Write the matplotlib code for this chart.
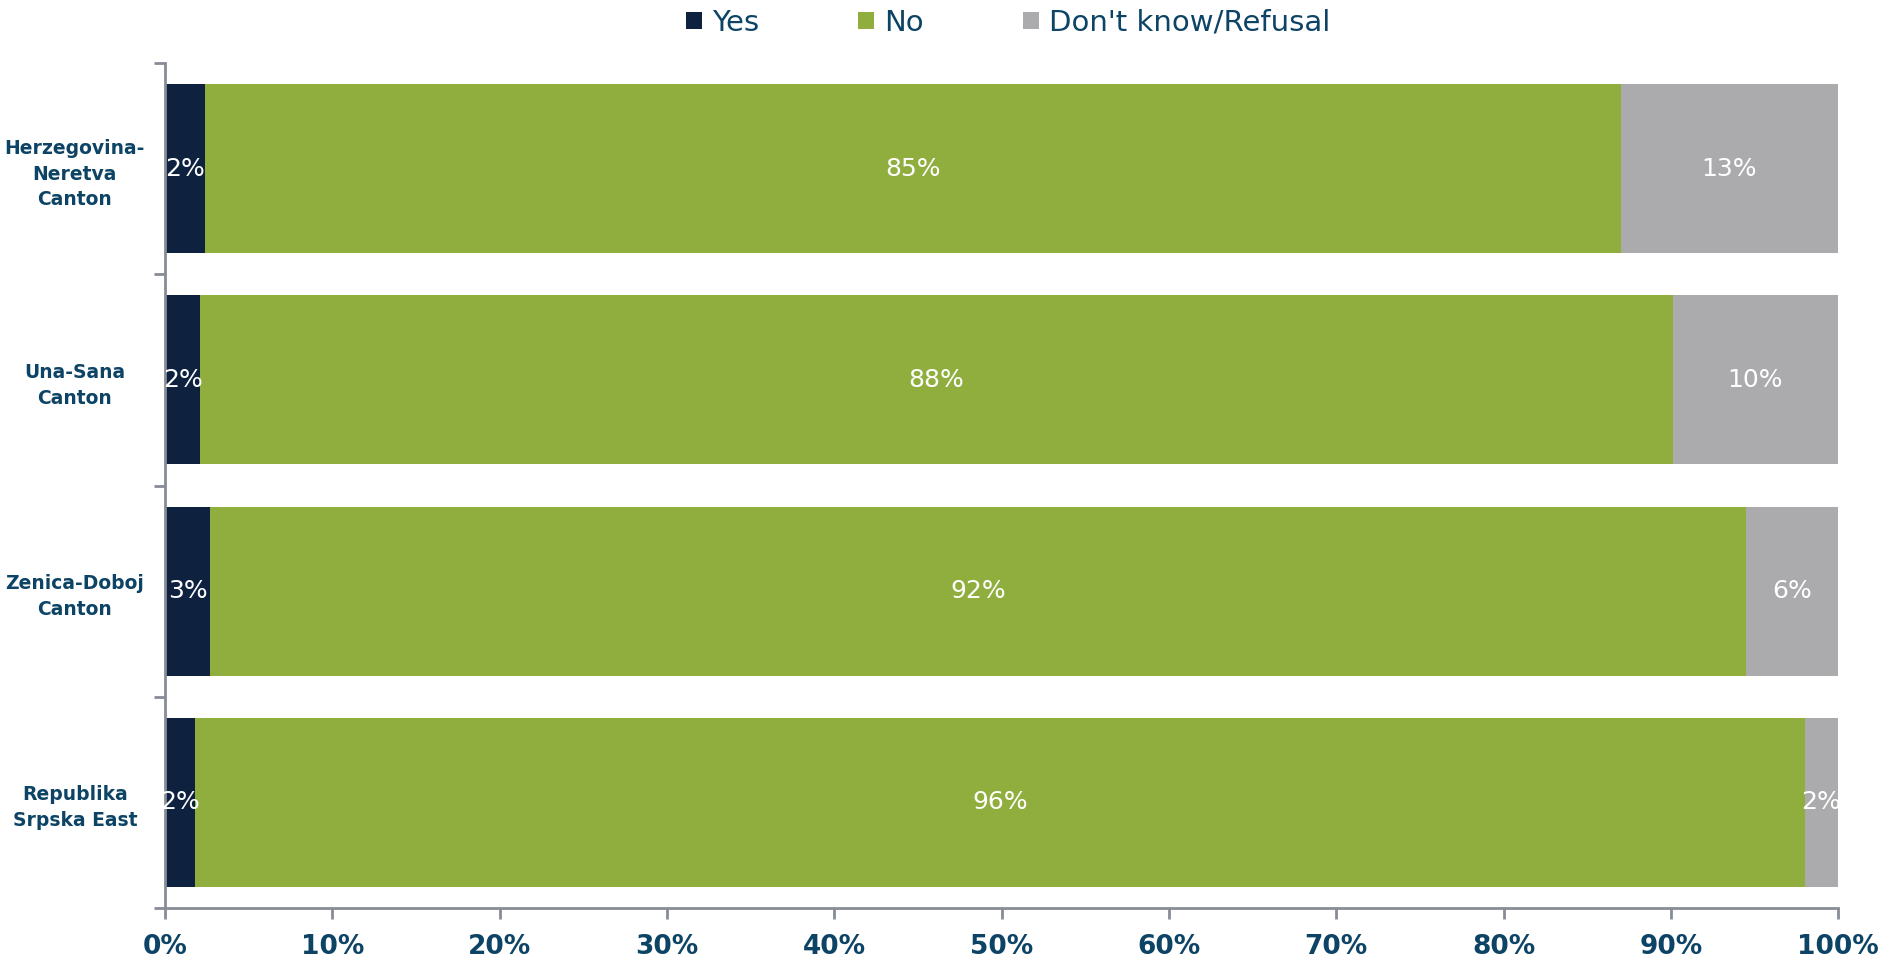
import numpy as np
import matplotlib
matplotlib.use("Agg")
import matplotlib.pyplot as plt

# ── Data ──────────────────────────────────────────────────────────────────────
regions = ["Herzegovina-\nNeretva\nCanton", "Una-Sana\nCanton",
           "Zenica-Doboj\nCanton", "Republika\nSrpska East"]
yes = [2.4, 2.1, 2.7, 1.8]
no = [84.6, 88.0, 91.8, 96.2]
dk = [13.0, 9.9, 5.5, 2.0]
yes_lbl = ["2%", "2%", "3%", "2%"]
no_lbl = ["85%", "88%", "92%", "96%"]
dk_lbl = ["13%", "10%", "6%", "2%"]
series_names = ["Yes", "No", "Don't know/Refusal"]

# ── Style ─────────────────────────────────────────────────────────────────────
C_YES = "#0E2240"
C_NO = "#90AE3E"
C_DK = "#ABABAD"
C_TXT = "#0D4466"
C_AX = "#878C96"
LBL_FONT = ["DejaVu Sans"]

fig = plt.figure(figsize=(18.95, 9.64), dpi=100)
ax = fig.add_axes([0.0871, 0.0581, 0.970 - 0.0871, 0.9346 - 0.0581])

y = np.arange(len(regions))
h = 0.8
left = np.zeros(len(regions))
for vals, lbls, col, name in [(yes, yes_lbl, C_YES, series_names[0]),
                              (no, no_lbl, C_NO, series_names[1]),
                              (dk, dk_lbl, C_DK, series_names[2])]:
    bars = ax.barh(y, vals, left=left, height=h, color=col, label=name,
                   edgecolor="none")
    for b, t in zip(bars, lbls):
        ax.text(b.get_x() + b.get_width() / 2, b.get_y() + b.get_height() / 2,
                t, ha="center", va="center", color="white", fontsize=18,
                family=LBL_FONT)
    left = left + np.array(vals)

ax.set_xlim(0, 100)
ax.set_ylim(len(regions) - 0.5, -0.5)

# x axis
ax.set_xticks(np.arange(0, 101, 10))
ax.set_xticklabels([f"{v}%" for v in range(0, 101, 10)])
ax.tick_params(axis="x", direction="out", length=8, width=2, color=C_AX,
               pad=11, labelsize=19, labelcolor=C_TXT)
for t in ax.get_xticklabels():
    t.set_fontweight("bold")

# y axis: major ticks at category boundaries, labels on minor ticks
ax.set_yticks(np.arange(-0.5, len(regions), 1.0))
ax.set_yticklabels([])
ax.tick_params(axis="y", which="major", direction="out", length=8, width=2,
               color=C_AX)
ax.set_yticks(y, minor=True)
ax.set_yticklabels(regions, minor=True, fontsize=13.5, fontweight="bold",
                   color=C_TXT, ha="center", linespacing=1.45)
ax.tick_params(axis="y", which="minor", length=0, pad=65)

for s in ["top", "right"]:
    ax.spines[s].set_visible(False)
for s in ["left", "bottom"]:
    ax.spines[s].set_color(C_AX)
    ax.spines[s].set_linewidth(2)

leg = fig.legend(loc="upper center", bbox_to_anchor=(0.532, 1.018), ncol=3,
                 frameon=False, handlelength=0.55, handleheight=0.55,
                 handletextpad=0.35, columnspacing=3.4,
                 prop={"family": LBL_FONT, "size": 21})
for t in leg.get_texts():
    t.set_color(C_TXT)

fig.savefig("out.png", dpi=100)
